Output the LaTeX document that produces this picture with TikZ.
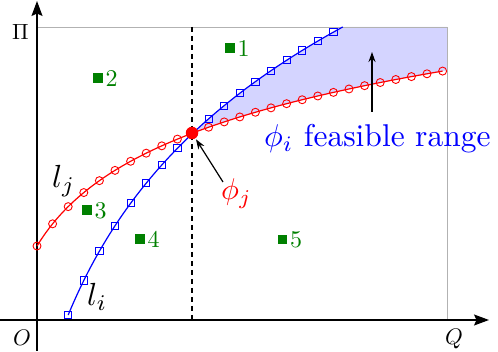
\documentclass[tikz,border=0pt]{standalone}
\usetikzlibrary{arrows.meta,plotmarks}
\definecolor{gcol}{RGB}{0,128,0}
\definecolor{fillblue}{RGB}{212,212,255}
\begin{document}
\begin{tikzpicture}[x=1pt,y=-1pt,
  axisline/.style={line width=1.3pt,-{Stealth[length=15pt,width=11pt,inset=2.5pt]}},
  boxline/.style={black!30,line width=0.8pt},
  dashline/.style={line width=1.2pt,dash pattern=on 5pt off 4pt},
  redcurve/.style={red,line width=1.2pt},
  bluecurve/.style={blue,line width=1.2pt},
  gsq/.style={fill=gcol,minimum size=9.5pt,inner sep=0pt},
  glab/.style={text=gcol,inner sep=0pt,anchor=base west},
  lab/.style={inner sep=0pt},
  pointer/.style={line width=1.2pt,-{Stealth[length=10pt,width=7pt]}},
  declare function={fr(\k)=246-77.1*ln(1+\k/3); fb(\k)=315-192.9*ln(1+(\k-2)/5.1); px(\k)=37+15.6*\k;}
]
\useasboundingbox (0,0) rectangle (498,352);
% feasible region
\fill[fillblue] plot[domain=10:19.6,samples=60] ({px(\x)},{fb(\x)}) -- (447,27) -- (447,{fr(26.28)})
  -- plot[domain=26.28:10,samples=60] ({px(\x)},{fr(\x)}) -- cycle;
% box
\draw[boxline] (37,27) -- (447,27) -- (447,320);
% dashed
\draw[dashline] (192,27) -- (192,320);
% axes
\draw[axisline] (37,351) -- (37,1);
\draw[axisline] (0,320) -- (489,320);
% curves
\draw[redcurve] plot[domain=0:26,samples=100] ({px(\x)},{fr(\x)});
\draw[redcurve] plot[only marks,mark=o,mark size=4pt,mark options={line width=0.9pt},domain=0:26,samples=27] ({px(\x)},{fr(\x)});
\draw[bluecurve] plot[domain=2:19.6,samples=100] ({px(\x)},{fb(\x)});
\draw[bluecurve] plot[only marks,mark=square,mark size=3.6pt,mark options={line width=0.9pt},domain=2:19,samples=18] ({px(\x)},{fb(\x)});
% intersection dot
\node[circle,fill=red,minimum size=12.5pt,inner sep=0pt] (dot) at (192,133) {};
% green points
\node[gsq] (s1) at (230,48) {}; \node[glab] (t1) at ([xshift=2.5pt,yshift=-3.5pt]s1.south east) {\scalebox{2.4}{1}};
\node[gsq] (s2) at (98,78) {}; \node[glab] (t2) at ([xshift=2.5pt,yshift=-3.5pt]s2.south east) {\scalebox{2.4}{2}};
\node[gsq] (s3) at (87,210) {}; \node[glab] (t3) at ([xshift=2.5pt,yshift=-3.5pt]s3.south east) {\scalebox{2.4}{3}};
\node[gsq] (s4) at (140,239) {}; \node[glab] (t4) at ([xshift=2.5pt,yshift=-3.5pt]s4.south east) {\scalebox{2.4}{4}};
\node[gsq] (s5) at (282.5,239.5) {}; \node[glab] (t5) at ([xshift=2.5pt,yshift=-3.5pt]s5.south east) {\scalebox{2.4}{5}};
% axis labels
\node[lab] (pi) at (20.5,32) {\scalebox{2.2}{$\Pi$}};
\node[lab] (o) at (22,337.5) {\scalebox{2.25}{$O$}};
\node[lab,anchor=base] (q) at (454,345) {\scalebox{2.25}{$Q$}};
\node[lab,anchor=base west] (lj) at (52,188) {\scalebox{3.2}{$l_j$}};
\node[lab,anchor=base west] (li) at (87,306) {\scalebox{3.2}{$l_i$}};
% phi labels
\node[lab,text=red,anchor=base west] (phij) at (221,200) {\scalebox{3.0}{$\phi_j$}};
\node[lab,text=blue,anchor=base west] (feas) at (264,147) {\scalebox{3.15}{$\phi_i$ feasible range}};
% arrows
\coordinate (a1s) at (223,182);
\draw[pointer,shorten >=1pt] (a1s) -- (dot);
\coordinate (a2s) at (372,112);
\coordinate (a2e) at (372,52);
\draw[pointer] (a2s) -- (a2e);
\end{tikzpicture}
\end{document}
